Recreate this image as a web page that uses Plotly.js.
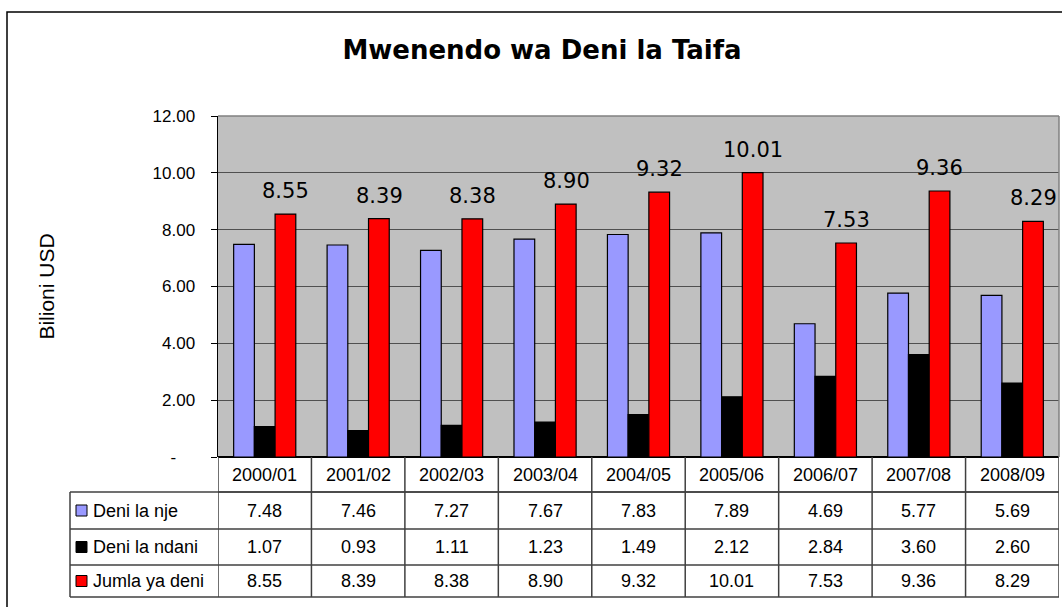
<!DOCTYPE html>
<html>
<head>
<meta charset="utf-8">
<script src="https://cdn.plot.ly/plotly-3.0.1.min.js"></script>
<style>html,body{margin:0;padding:0;background:#fff;}#chart{width:1062px;height:607px;}</style>
</head>
<body>
<div id="chart"></div>
<script>
const categories = ["2000/01","2001/02","2002/03","2003/04","2004/05","2005/06","2006/07","2007/08","2008/09"];
const seriesNames = ["Deni la nje","Deni la ndani","Jumla ya deni"];
const deniLaNje = [7.48,7.46,7.27,7.67,7.83,7.89,4.69,5.77,5.69];
const deniLaNdani = [1.07,0.93,1.11,1.23,1.49,2.12,2.84,3.60,2.60];
const jumlaYaDeni = [8.55,8.39,8.38,8.90,9.32,10.01,7.53,9.36,8.29];
const yTickVals = [0,2,4,6,8,10,12];
const yTickText = ["-" + "\u00a0".repeat(4),"2.00","4.00","6.00","8.00","10.00","12.00"];

const colors = ["#9999ff","#000000","#ff0000"];
const allSeries = [deniLaNje, deniLaNdani, jumlaYaDeni];

// geometry helpers (pixel -> paper)
const L = 218, R = 3, T = 116, B = 150, W = 1062, H = 607;
const PW = W - L - R, PH = H - T - B;
const xp = px => (px - L) / PW;
const yp = py => (H - B - py) / PH;

const traces = allSeries.map((vals, k) => ({
  type: "bar",
  name: seriesNames[k],
  x: categories,
  y: vals,
  marker: {color: colors[k], line: {color: "#000", width: 1.2}},
  hoverinfo: "skip"
}));

const shapes = [];
const annotations = [];
const lineCol = "#404040";

// outer frame
shapes.push({type:"rect", xref:"paper", yref:"paper", x0:xp(7), x1:xp(1075), y0:yp(12), y1:yp(620), line:{color:"#000", width:1.5}});

// table rows (pixel y boundaries)
const rowTops = [457, 492, 529, 565, 597];
shapes.push({type:"line", xref:"paper", yref:"paper", x0:0, x1:1, y0:yp(rowTops[1]), y1:yp(rowTops[1]), line:{color:lineCol, width:1.5}});
for (let r = 1; r < rowTops.length; r++) {
  shapes.push({type:"line", xref:"paper", yref:"paper", x0:xp(70), x1:1, y0:yp(rowTops[r]), y1:yp(rowTops[r]), line:{color:lineCol, width:1.5}});
}
shapes.push({type:"line", xref:"paper", yref:"paper", x0:xp(70), x1:xp(70), y0:yp(492), y1:yp(597), line:{color:lineCol, width:1.5}});
for (let i = 0; i <= categories.length; i++) {
  shapes.push({type:"line", xref:"x", yref:"paper", x0:i-0.5, x1:i-0.5, y0:0, y1:yp(597), line:{color:lineCol, width:1.5}});
}

const tableFont = {family:"Liberation Sans, Arial, sans-serif", size:18, color:"#000"};
const rowCenters = [474.5, 510.5, 547, 581];

categories.forEach((c, i) => {
  annotations.push({xref:"x", yref:"paper", x:c, y:yp(rowCenters[0]), text:c, showarrow:false, font:tableFont, xanchor:"center", yanchor:"middle"});
});
allSeries.forEach((vals, k) => {
  const yc = yp(rowCenters[k+1]);
  vals.forEach((v, i) => {
    annotations.push({xref:"x", yref:"paper", x:categories[i], y:yc, text:v.toFixed(2), showarrow:false, font:tableFont, xanchor:"center", yanchor:"middle"});
  });
  shapes.push({type:"rect", xref:"paper", yref:"paper", x0:xp(76), x1:xp(87), y0:yc - 5.5/PH, y1:yc + 5.5/PH, fillcolor:colors[k], line:{color:"#000", width:1}});
  annotations.push({xref:"paper", yref:"paper", x:xp(91), y:yc, text:seriesNames[k], showarrow:false, font:tableFont, xanchor:"left", yanchor:"middle"});
});

jumlaYaDeni.forEach((v, i) => {
  annotations.push({xref:"x", yref:"y", x:categories[i], y:v, text:v.toFixed(2), showarrow:false, xshift:21, yshift:9, yanchor:"bottom", xanchor:"center",
    font:{family:"DejaVu Sans, sans-serif", size:21, color:"#000"}});
});

const layout = {
  width: W, height: H,
  margin: {l:L, r:R, t:T, b:B, pad:0},
  paper_bgcolor: "#fff",
  plot_bgcolor: "#c0c0c0",
  barmode: "group",
  bargap: 0.335,
  bargroupgap: 0,
  showlegend: false,
  title: {text:"Mwenendo wa Deni la Taifa", x:542/W, xref:"container", xanchor:"center", y:1-50/H, yref:"container", yanchor:"middle",
    font:{family:"DejaVu Sans, sans-serif", size:26, color:"#000", weight:"bold"}},
  xaxis: {showticklabels:false, ticks:"", showgrid:false, zeroline:false, showline:false, range:[-0.5, categories.length-0.5], fixedrange:true},
  yaxis: {range:[0,12], tickvals:yTickVals, ticktext:yTickText, ticks:"outside", ticklen:6, tickcolor:"#000", tickwidth:1,
    showline:true, linecolor:"#000", linewidth:1.5, showgrid:true, gridcolor:"#505050", gridwidth:1, zeroline:true, zerolinecolor:"#000", zerolinewidth:1.5,
    tickfont:{family:"Liberation Sans, Arial, sans-serif", size:17, color:"#000"}, ticklabelstandoff:12,
    title:{text:"Bilioni USD", font:{family:"Liberation Sans, Arial, sans-serif", size:21, color:"#000"}, standoff:92}},
  shapes: shapes.concat([{type:"line", xref:"paper", yref:"paper", x0:0, x1:1, y0:1, y1:1, line:{color:"#808080", width:1.5}},
                         {type:"line", xref:"paper", yref:"paper", x0:1, x1:1, y0:0, y1:1, line:{color:"#808080", width:1.5}}]),
  annotations: annotations
};

Plotly.newPlot("chart", traces, layout, {displayModeBar:false, staticPlot:true});
</script>
</body>
</html>
